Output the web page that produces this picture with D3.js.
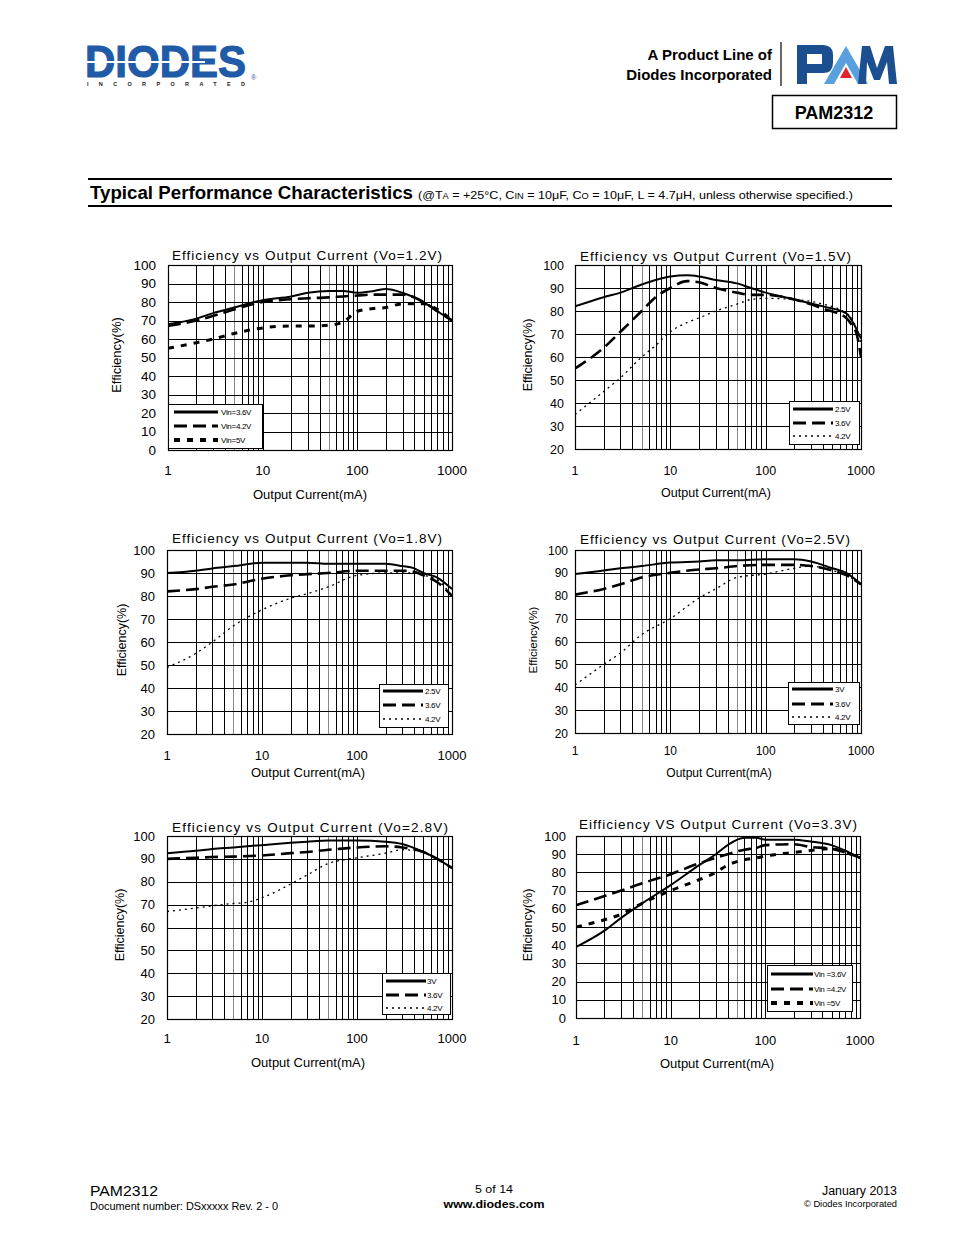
<!DOCTYPE html>
<html><head><meta charset="utf-8">
<script src="https://cdn.jsdelivr.net/npm/d3@7"></script>
<style>body{margin:0;background:#fff}svg{display:block;font-family:"Liberation Sans",Arial,sans-serif}</style>
</head><body><svg id="page" width="954" height="1235"></svg>
<script>
// ---------------- DATA ----------------
const xTickLabels = ["1","10","100","1000"];
const yTicks0 = [0,10,20,30,40,50,60,70,80,90,100];
const yTicks20 = [20,30,40,50,60,70,80,90,100];

const titles = [
  "Efficiency vs Output Current (Vo=1.2V)",
  "Efficiency vs Output Current (Vo=1.5V)",
  "Efficiency vs Output Current (Vo=1.8V)",
  "Efficiency vs Output Current (Vo=2.5V)",
  "Efficiency vs Output Current  (Vo=2.8V)",
  "Eifficiency VS Output Current (Vo=3.3V)"
];
const legendLabels = [
  ["Vin=3.6V","Vin=4.2V","Vin=5V"],
  ["2.5V","3.6V","4.2V"],
  ["2.5V","3.6V","4.2V"],
  ["3V","3.6V","4.2V"],
  ["3V","3.6V","4.2V"],
  ["Vin =3.6V","Vin =4.2V","Vin =5V"]
];

// Vo = 1.2V
const c1_current = [1,2,3,5,10,20,30,50,70,100,150,200,300,500,700,1000];
const c1_vin36 = [68,71,74,77,81,83,85,86,86,85,86,87,85,80,75,70];
const c1_vin42 = [67,70,72.5,76,80,81.5,82,82.5,83,83.5,84,84,84,80,75,70];
const c1_vin5  = [55,58,60,63,66,67,67,67.5,69,75,76.5,77,79,79,76,70];
// Vo = 1.5V
const c2_current = [1,2,3,5,7,10,15,20,30,50,70,100,200,400,700,800,900,1000];
const c2_vin25 = [82,86,88,91.5,93.5,95,95.5,95,93.5,92,90,88,85,82,79,76,72,68];
const c2_vin36 = [55,64,71,80,86,90,93,92.5,90,88,87,87,85,81,77,74,70,60];
const c2_vin42 = [35,45,51,60,65,71,75,77,80,83,85,85.5,85,83,79,77,72,66];
// Vo = 1.8V
const c3_current = [1,2,3,5,10,20,30,50,100,200,300,400,500,700,1000];
const c3_vin25 = [90,91,92,93,94.5,94.5,94.5,94,94,94,93,92,90,88,83];
const c3_vin36 = [82,83,84,85,87.5,89,89.5,90,91,91,91,90.5,89,86,80];
const c3_vin42 = [49,55,60,67,74,79,81,84,89,90,90,90,89,87,80];
// Vo = 2.5V
const c4_current = [1,2,3,5,10,20,30,50,100,200,300,500,700,1000];
const c4_vin3  = [89.5,91,92,93,94.5,95,95.5,95.5,96,96,95,92,90,85];
const c4_vin36 = [80.5,83,85,88,90,91.5,92,93,93.5,93.5,93,91,89,85];
const c4_vin42 = [41,50,55,63,70,79,83,88,89.5,92,93,91,89,85];
// Vo = 2.8V
const c5_current = [1,2,3,5,7,10,20,30,50,70,100,200,300,500,700,1000];
const c5_vin3  = [92.5,93.5,94.3,95,95.5,96,97,97.5,98,98,98,97.5,96.5,93,90,86];
const c5_vin36 = [90,90.5,90.8,91,91.2,91.5,92.5,93,94,94.5,95,95.5,95,93,90,86];
const c5_vin42 = [67,68.5,69.5,70.5,71,73,79,83,88,89.5,90.5,92.5,94,93,90,86];
// Vo = 3.3V
const c6_current = [1,2,3,5,10,20,30,40,60,80,100,200,300,500,700,1000];
const c6_vin36 = [39,48,55,63,73,84,90,95,99,99,98,98,97,95,92,88];
const c6_vin42 = [62,67,70,74,79,85,88,90,92.5,93.5,95,95.5,94,93,91,88];
const c6_vin5  = [50,54,57,63,70,76,80,84,87,88,89,91,92,93,91,88];

// ---------------- LAYOUT ----------------
const chartData = [
  {x:c1_current, s:[c1_vin36,c1_vin42,c1_vin5], yt:yTicks0},
  {x:c2_current, s:[c2_vin25,c2_vin36,c2_vin42], yt:yTicks20},
  {x:c3_current, s:[c3_vin25,c3_vin36,c3_vin42], yt:yTicks20},
  {x:c4_current, s:[c4_vin3,c4_vin36,c4_vin42], yt:yTicks20},
  {x:c5_current, s:[c5_vin3,c5_vin36,c5_vin42], yt:yTicks20},
  {x:c6_current, s:[c6_vin36,c6_vin42,c6_vin5], yt:yTicks0}
];
const layout = [
  {p:[168,265,452,450], ytr:156, fs:13.5, yl:[117,355,13], xty:475, xt:[310,499,13], tt:[172,442,260], lg:[168,404,262,448], lgr:[412,426,440], lgx:[174,218,221], thick3:true},
  {p:[575,265,861,449], ytr:564, fs:12.5, yl:[528,355,12.5], xty:475, xt:[716,497,12.5], tt:[580,851,261], lg:[789,401,859,444], lgr:[409,423,436], lgx:[793,833,835]},
  {p:[167,550,452,734], ytr:155, fs:13, yl:[122,640,12.5], xty:760, xt:[308,777,13], tt:[172,442,543], lg:[379,684,448,727], lgr:[691,705,719], lgx:[383,423,425]},
  {p:[575,550,861,733], ytr:568, fs:12, yl:[533,640,11.5], xty:755, xt:[719,777,12], tt:[580,850,544], lg:[788,682,859,724], lgr:[689,704,717], lgx:[792,833,835]},
  {p:[167,836,452,1019], ytr:155, fs:13, yl:[120,925,12.5], xty:1043, xt:[308,1067,13], tt:[172,448,832], lg:[382,973,450,1014], lgr:[981,995,1008], lgx:[386,426,427]},
  {p:[576,836,860,1018], ytr:566, fs:13, yl:[528,925,12.5], xty:1045, xt:[717,1068,13], tt:[579,857,829], lg:[767,965,852,1011], lgr:[974,989,1003], lgx:[771,813,814], thick3:true}
];

const svg = d3.select("#page");
svg.append("rect").attr("width",954).attr("height",1235).attr("fill","#fff");

// ---------------- HEADER ----------------
const blue = "#1f5ba6";
svg.append("text").attr("x",85).attr("y",77).attr("font-size",45).attr("font-weight","bold")
  .attr("fill",blue).attr("stroke",blue).attr("stroke-width",1.2)
  .attr("textLength",161).attr("lengthAdjust","spacingAndGlyphs").text("DIODES");
svg.append("line").attr("x1",84).attr("x2",205).attr("y1",62).attr("y2",62).attr("stroke","#fff").attr("stroke-width",2);
svg.append("text").attr("x",87).attr("y",86).attr("font-size",5.5).attr("font-weight","bold").attr("fill","#222")
  .attr("textLength",158).text("INCORPORATED");
svg.append("text").attr("x",251).attr("y",80).attr("font-size",7).attr("fill",blue).text("®");

svg.append("text").attr("x",772).attr("y",60).attr("text-anchor","end").attr("font-size",15).attr("font-weight","bold").text("A Product Line of");
svg.append("text").attr("x",772).attr("y",80).attr("text-anchor","end").attr("font-size",15).attr("font-weight","bold").text("Diodes Incorporated");
svg.append("line").attr("x1",781).attr("x2",781).attr("y1",42).attr("y2",86).attr("stroke","#000").attr("stroke-width",1.2);
// PAM logo
svg.append("path").attr("fill","#1c4f8f").attr("fill-rule","evenodd")
  .attr("d","M797,45 H823 Q833,45 833,55 V63 Q833,73 823,73 H807 V84 H797 Z M807,54 H822 V64 H807 Z");
svg.append("path").attr("fill","#5aa0dc").attr("d","M824,84 L846,46 L868,84 H858 L846,63 L834,84 Z");
svg.append("path").attr("fill","#e0242b").attr("d","M846,67 L852,78 H840 Z");
svg.append("path").attr("fill","#1c4f8f").attr("d","M858,84 L862,46 H870 L877,68 L885,46 H893 L897,84 H889 L887,62 L880,80 H874 L867,62 L866,84 Z");
svg.append("rect").attr("x",772.5).attr("y",95.5).attr("width",124).attr("height",33).attr("fill","none").attr("stroke","#000").attr("stroke-width",1.5);
svg.append("text").attr("x",834).attr("y",119).attr("text-anchor","middle").attr("font-size",18).attr("font-weight","bold").text("PAM2312");

// section title
svg.append("line").attr("x1",88).attr("x2",892).attr("y1",179).attr("y2",179).attr("stroke","#000").attr("stroke-width",2);
svg.append("line").attr("x1",88).attr("x2",892).attr("y1",206).attr("y2",206).attr("stroke","#000").attr("stroke-width",2);
svg.append("text").attr("x",90).attr("y",199).attr("font-size",18).attr("font-weight","bold")
  .attr("textLength",323).attr("lengthAdjust","spacingAndGlyphs").text("Typical Performance Characteristics");
const st = svg.append("text").attr("x",418).attr("y",199).attr("font-size",11.5).attr("textLength",435).attr("lengthAdjust","spacingAndGlyphs");
[["(@T",11.5],["A",8.5],[" = +25°C, C",11.5],["IN",8.5],[" = 10μF, C",11.5],["O",8.5],[" = 10μF, L = 4.7μH, unless otherwise specified.)",11.5]]
  .forEach(([t,s])=>st.append("tspan").attr("font-size",s).text(t));

// ---------------- CHARTS ----------------
const dashes = [null, "13,6", "2,4"];
chartData.forEach((cd,i)=>{
  const L = layout[i];
  const [x0,y0,x1,y1] = L.p;
  const g = svg.append("g");
  const x = d3.scaleLog().domain([1,1000]).range([x0,x1]);
  const y = d3.scaleLinear().domain([cd.yt[0],100]).range([y1,y0]);
  // grid
  const minors = [];
  for (let d=1; d<1000; d*=10) for (let k=1;k<=9;k++) minors.push(d*k);
  minors.push(1000);
  g.selectAll(".vg").data(minors).join("line")
    .attr("x1",d=>Math.round(x(d))+0.5).attr("x2",d=>Math.round(x(d))+0.5).attr("y1",y0).attr("y2",y1)
    .attr("stroke",d=>(d===5||d===50)?"#888":"#000").attr("stroke-width",1);
  g.selectAll(".hg").data(cd.yt).join("line")
    .attr("x1",x0).attr("x2",x1).attr("y1",d=>Math.round(y(d))+0.5).attr("y2",d=>Math.round(y(d))+0.5)
    .attr("stroke","#000").attr("stroke-width",1);
  g.append("rect").attr("x",x0+0.5).attr("y",y0+0.5).attr("width",x1-x0).attr("height",y1-y0)
    .attr("fill","none").attr("stroke","#000").attr("stroke-width",1.2);
  // y tick labels
  g.selectAll(".yl").data(cd.yt).join("text")
    .attr("x",L.ytr).attr("y",d=>y(d)+4.5).attr("text-anchor","end").attr("font-size",L.fs).text(d=>d);
  // x tick labels
  g.selectAll(".xl").data([1,10,100,1000]).join("text")
    .attr("x",d=>x(d)).attr("y",L.xty).attr("text-anchor","middle").attr("font-size",L.fs)
    .text((d,j)=>xTickLabels[j]);
  // titles
  g.append("text").attr("x",(L.tt[0]+L.tt[1])/2).attr("y",L.tt[2]).attr("text-anchor","middle").attr("font-size",13.5)
    .attr("textLength",L.tt[1]-L.tt[0]).attr("lengthAdjust","spacing").text(titles[i]);
  g.append("text").attr("x",L.xt[0]).attr("y",L.xt[1]).attr("text-anchor","middle").attr("font-size",L.xt[2]).text("Output Current(mA)");
  g.append("text").attr("transform",`translate(${L.yl[0]+4},${L.yl[1]}) rotate(-90)`).attr("text-anchor","middle")
    .attr("font-size",L.yl[2]).text("Efficiency(%)");
  // series
  const clipId = "clip"+i;
  svg.append("clipPath").attr("id",clipId).append("rect").attr("x",x0).attr("y",y0-3).attr("width",x1-x0+1).attr("height",y1-y0+3);
  const line = d3.line().x(d=>x(d[0])).y(d=>y(d[1])).curve(d3.curveMonotoneX);
  cd.s.forEach((vals,k)=>{
    const pts = cd.x.map((c,j)=>[c,vals[j]]);
    const dash = (k===2 && L.thick3) ? "6,7" : dashes[k];
    const w = k===0 ? 2 : (k===1 ? 2.6 : (L.thick3 ? 3 : 1.3));
    g.append("path").attr("clip-path",`url(#${clipId})`).attr("d",line(pts)).attr("fill","none")
      .attr("stroke","#000").attr("stroke-width",w).attr("stroke-dasharray",dash);
  });
  // legend
  const [lx0,ly0,lx1,ly1] = L.lg;
  g.append("rect").attr("x",lx0+0.5).attr("y",ly0+0.5).attr("width",lx1-lx0).attr("height",ly1-ly0)
    .attr("fill","#fff").attr("stroke","#000").attr("stroke-width",1);
  L.lgr.forEach((ry,k)=>{
    const dash = (k===2 && L.thick3) ? "6,7" : dashes[k];
    const w = k===0 ? 3 : (k===1 ? 2.8 : (L.thick3 ? 4 : 1.3));
    g.append("line").attr("x1",L.lgx[0]).attr("x2",L.lgx[1]).attr("y1",ry).attr("y2",ry)
      .attr("stroke","#000").attr("stroke-width",w).attr("stroke-dasharray",dash);
    g.append("text").attr("x",L.lgx[2]).attr("y",ry+3).attr("font-size",8).attr("letter-spacing",-0.3).text(legendLabels[i][k]);
  });
});

// ---------------- FOOTER ----------------
svg.append("text").attr("x",90).attr("y",1196).attr("font-size",14).attr("textLength",68).attr("lengthAdjust","spacingAndGlyphs").text("PAM2312");
svg.append("text").attr("x",90).attr("y",1210).attr("font-size",11).attr("textLength",188).attr("lengthAdjust","spacingAndGlyphs").text("Document number: DSxxxxx Rev. 2 - 0");
svg.append("text").attr("x",494).attr("y",1193).attr("text-anchor","middle").attr("font-size",11).attr("textLength",38).attr("lengthAdjust","spacingAndGlyphs").text("5 of 14");
svg.append("text").attr("x",494).attr("y",1208).attr("text-anchor","middle").attr("font-size",11).attr("font-weight","bold").attr("textLength",101).attr("lengthAdjust","spacingAndGlyphs").text("www.diodes.com");
svg.append("text").attr("x",897).attr("y",1195).attr("text-anchor","end").attr("font-size",12).attr("textLength",75).attr("lengthAdjust","spacingAndGlyphs").text("January 2013");
svg.append("text").attr("x",897).attr("y",1207).attr("text-anchor","end").attr("font-size",9).attr("textLength",93).attr("lengthAdjust","spacingAndGlyphs").text("© Diodes Incorporated");
</script></body></html>
